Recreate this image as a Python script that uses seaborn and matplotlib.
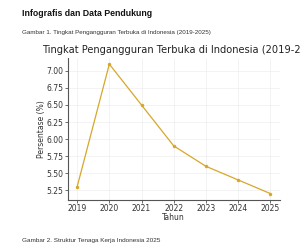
import matplotlib
matplotlib.use("Agg")
import matplotlib.pyplot as plt
import seaborn as sns
import pandas as pd

# --- Data ---
years = [2019, 2020, 2021, 2022, 2023, 2024, 2025]
rates = [5.30, 7.10, 6.50, 5.90, 5.60, 5.40, 5.20]
yticks = [5.25, 5.50, 5.75, 6.00, 6.25, 6.50, 6.75, 7.00]

HEADING = "Infografis dan Data Pendukung"
CAPTION1 = "Gambar 1. Tingkat Pengangguran Terbuka di Indonesia (2019-2025)"
CAPTION2 = "Gambar 2. Struktur Tenaga Kerja Indonesia 2025"
TITLE = "Tingkat Pengangguran Terbuka di Indonesia (2019-2025)"

df = pd.DataFrame({"Tahun": years, "Persentase (%)": rates})

sns.set_style("whitegrid", {"grid.color": "#ebebeb", "axes.edgecolor": "#555555"})
plt.rcParams["font.family"] = ["DejaVu Sans"]

fig = plt.figure(figsize=(3.0, 2.45), dpi=100)
ax = fig.add_axes([0.225, 0.1837, 0.708, 0.581])

sns.lineplot(data=df, x="Tahun", y="Persentase (%)", ax=ax, color="#d6a72a",
             marker="o", markersize=2.5, markeredgewidth=0, linewidth=0.9)

ax.set_yticks(yticks)
ax.set_xticks(years)
ax.tick_params(axis="both", labelsize=5.5, colors="#333333", length=2, width=0.5,
               pad=1, direction="out")
ax.tick_params(axis="both", which="both", left=True, bottom=True)
ax.set_xlabel("Tahun", fontsize=5.5, color="#333333", labelpad=0)
ax.set_ylabel("Persentase (%)", fontsize=5.5, color="#333333", labelpad=0.5)
ax.grid(linewidth=0.4)
for side in ["top", "right"]:
    ax.spines[side].set_visible(False)
for side in ["left", "bottom"]:
    ax.spines[side].set_linewidth(0.8)
# the title runs past the right edge in the screenshot, keep it that way
ax.set_title(TITLE, fontsize=7.1, color="#222222", pad=3, loc="left", x=-0.12)

fig.text(0.073, 0.945, HEADING, fontsize=6.3, fontweight="bold",
         family="Liberation Sans", va="center", color="#111111")
fig.text(0.073, 0.868, CAPTION1, fontsize=4.5, family="Liberation Sans",
         va="center", color="#333333")
fig.text(0.073, 0.02, CAPTION2, fontsize=4.55, family="Liberation Sans",
         va="center", color="#333333")

fig.savefig("out.png", dpi=100)
